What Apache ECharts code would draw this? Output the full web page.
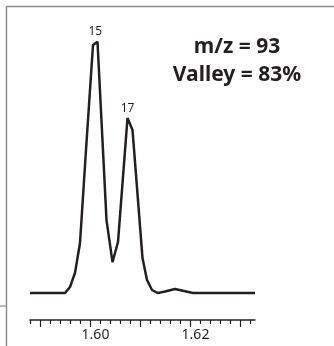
<!DOCTYPE html>
<html>
<head>
<meta charset="utf-8">
<script src="https://cdn.jsdelivr.net/npm/echarts@6/dist/echarts.min.js"></script>
<style>
  html, body { margin: 0; padding: 0; background: #fff; }
  #chart { width: 334px; height: 346px; }
</style>
</head>
<body>
<div id="chart"></div>
<script>
// retention time (min) and relative intensity
const rtValues = [1.588, 1.595, 1.596, 1.597, 1.598, 1.5992, 1.6006, 1.6015, 1.6033, 1.6045, 1.6056, 1.6075, 1.6085, 1.6105, 1.6114, 1.6124, 1.6136, 1.615, 1.617, 1.6188, 1.6206, 1.633];
const intensity = [0, 0, 2.4, 8.0, 19.9, 56.9, 98.7, 100, 29.0, 12.3, 20.3, 69.6, 64.9, 13.9, 5.2, 1.2, 0, 0.6, 1.6, 0.8, 0, 0];

const peakNames = ['15', '17'];
const peakRt = [1.60105, 1.6075];
const peakHeight = [100, 69.6];

const minorTicks = [1.588, 1.592, 1.594, 1.596, 1.598, 1.602, 1.604, 1.606, 1.608, 1.612, 1.614, 1.616, 1.618, 1.622, 1.624, 1.626, 1.628, 1.632];
const majorTicks = [1.59, 1.60, 1.61, 1.62, 1.63];
const tickLabels = [1.60, 1.62];

const titleLines = ['m/z = 93', 'Valley = 83%'];

const INK = '#231f20';
const FRAME = '#8a8a8a';

const chart = echarts.init(document.getElementById('chart'));
chart.setOption({
  animation: false,
  grid: { left: 30, right: 79, top: 33, bottom: 26 },
  xAxis: [
    {
      type: 'value', position: 'bottom', min: 1.588, max: 1.633,
      axisLine: { show: true, onZero: false, lineStyle: { color: INK, width: 1.5 } },
      axisTick: { show: true, customValues: minorTicks, length: 4, lineStyle: { color: INK, width: 1.2 } },
      axisLabel: { show: false },
      splitLine: { show: false },
    },
    {
      type: 'value', position: 'bottom', offset: 0, min: 1.588, max: 1.633,
      axisLine: { show: false, onZero: false },
      axisTick: { show: true, customValues: majorTicks, length: 7, lineStyle: { color: INK, width: 1.2 } },
      axisLabel: {
        show: true, customValues: tickLabels, margin: 8, padding: [0, 0, 0, 11],
        color: INK, fontSize: 14, fontFamily: 'Noto Sans',
        formatter: v => v.toFixed(2),
      },
      splitLine: { show: false },
    },
  ],
  yAxis: { type: 'value', min: -10.74, max: 103.46, show: false },
  graphic: [
    { type: 'line', shape: { x1: 6.5, y1: 6.5, x2: 334, y2: 6.5 }, style: { stroke: FRAME, lineWidth: 1.5 } },
    { type: 'line', shape: { x1: 6.5, y1: 6.5, x2: 6.5, y2: 346 }, style: { stroke: FRAME, lineWidth: 1.5 } },
    { type: 'line', shape: { x1: 0, y1: 306, x2: 6.5, y2: 306 }, style: { stroke: FRAME, lineWidth: 1.2 } },
    {
      type: 'text', x: 237, y: 33,
      style: {
        text: titleLines.join('\n'), textAlign: 'center', textVerticalAlign: 'top',
        font: 'bold 21px "Noto Sans"', lineHeight: 28, fill: INK,
      },
    },
  ],
  series: [{
    type: 'line',
    xAxisIndex: 0,
    data: rtValues.map((x, i) => [x, intensity[i]]),
    showSymbol: false,
    lineStyle: { color: INK, width: 2.5 },
    markPoint: {
      symbol: 'circle', symbolSize: 0,
      label: { show: true, position: 'top', distance: 4, color: INK, fontSize: 12, fontFamily: 'Noto Sans', formatter: p => p.name },
      data: peakNames.map((n, i) => ({ name: n, coord: [peakRt[i], peakHeight[i]] })),
    },
  }],
});
</script>
</body>
</html>
